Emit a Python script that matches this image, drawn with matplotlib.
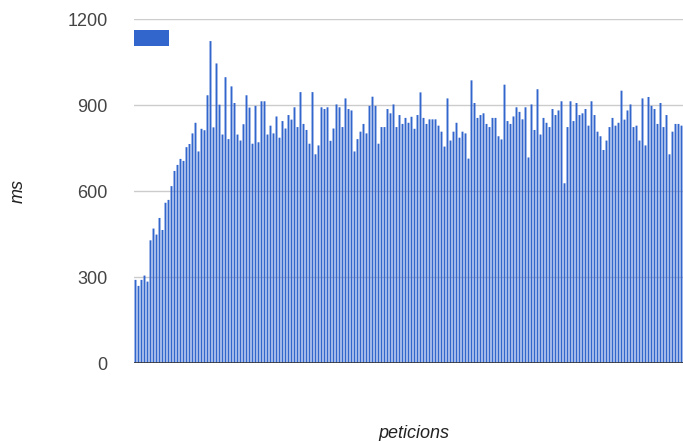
import matplotlib
matplotlib.use("Agg")
import matplotlib.pyplot as plt
from matplotlib.patches import Rectangle

# Response time (ms) for each request
response_ms = [
    290, 269, 290, 305, 284, 428, 469, 448, 506, 464,
    559, 569, 617, 670, 691, 712, 705, 753, 764, 801,
    838, 738, 817, 812, 934, 1123, 822, 1045, 901, 797,
    997, 781, 965, 907, 797, 776, 833, 934, 891, 765,
    897, 770, 913, 913, 797, 828, 801, 860, 786, 844,
    818, 865, 849, 892, 823, 945, 834, 813, 765, 945,
    728, 759, 892, 886, 892, 775, 818, 902, 892, 823,
    923, 886, 881, 738, 781, 807, 834, 801, 897, 929,
    897, 765, 823, 823, 886, 871, 902, 823, 865, 834,
    855, 838, 859, 817, 865, 944, 855, 834, 850, 850,
    850, 828, 807, 755, 923, 776, 807, 838, 786, 807,
    801, 713, 986, 907, 855, 865, 871, 834, 823, 855,
    855, 791, 780, 971, 844, 834, 860, 892, 876, 850,
    892, 717, 902, 813, 955, 797, 855, 838, 823, 886,
    865, 881, 913, 627, 823, 913, 844, 907, 865, 871,
    886, 828, 913, 865, 807, 791, 743, 776, 823, 855,
    828, 838, 950, 849, 881, 902, 823, 828, 776, 923,
    759, 928, 897, 886, 834, 907, 823, 865, 728, 807,
    834, 834, 828,
]
request_index = list(range(len(response_ms)))
y_ticks = [0, 300, 600, 900, 1200]
y_tick_labels = ["0", "300", "600", "900", "1200"]
x_title = "peticions"
y_title = "ms"

W, H = 683, 441
fig = plt.figure(figsize=(W / 100, H / 100), dpi=100)
plt.rcParams["font.family"] = ["Liberation Sans", "DejaVu Sans"]

left, right, top, bottom = 134, 683, 19, 363
ax = fig.add_axes([left / W, 1 - bottom / H, (right - left) / W, (bottom - top) / H])

bar_color = "#3366cc"
ax.bar(request_index, response_ms, width=0.64, color=bar_color, linewidth=0,
       snap=False, antialiased=True, zorder=2)

ax.set_xlim(-0.5, len(response_ms) - 0.5)
ax.set_ylim(0, 1200)
ax.set_yticks(y_ticks)
ax.set_yticklabels(y_tick_labels, fontsize=13, color="#444444")
ax.set_xticks([])
ax.tick_params(axis="y", length=0, pad=19)
for side in ("top", "right", "left", "bottom"):
    ax.spines[side].set_visible(False)

for v in y_ticks[1:]:
    ax.axhline(v, color="#cccccc", linewidth=1, zorder=1)
ax.axhline(0, color="#333333", linewidth=1.2, zorder=3)

# Legend swatch (series without a name)
fig.patches.append(Rectangle((134 / W, 1 - 46 / H), 35 / W, 16 / H,
                             transform=fig.transFigure, color=bar_color,
                             linewidth=0))

fig.text(18 / W, 1 - 191 / H, y_title, rotation=90, style="italic",
         fontsize=13, color="#222222", ha="center", va="center")
fig.text(414 / W, 1 - 433 / H, x_title, style="italic",
         fontsize=13, color="#222222", ha="center", va="center")

fig.savefig("out.png", dpi=100, facecolor="white")
